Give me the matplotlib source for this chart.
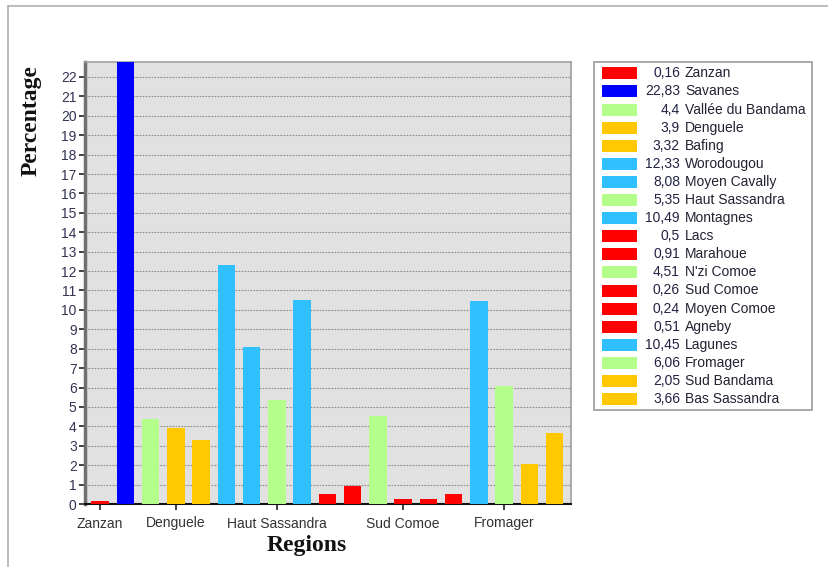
import matplotlib.pyplot as plt
from matplotlib.patches import Rectangle
from matplotlib.lines import Line2D

plt.rcParams['font.family'] = ['Liberation Sans', 'DejaVu Sans']

regions = ['Zanzan', 'Savanes', 'Vallée du Bandama', 'Denguele', 'Bafing',
           'Worodougou', 'Moyen Cavally', 'Haut Sassandra', 'Montagnes', 'Lacs',
           'Marahoue', "N'zi Comoe", 'Sud Comoe', 'Moyen Comoe', 'Agneby',
           'Lagunes', 'Fromager', 'Sud Bandama', 'Bas Sassandra']
values = [0.16, 22.83, 4.4, 3.9, 3.32, 12.33, 8.08, 5.35, 10.49, 0.5,
          0.91, 4.51, 0.26, 0.24, 0.51, 10.45, 6.06, 2.05, 3.66]
value_text = ['0,16', '22,83', '4,4', '3,9', '3,32', '12,33', '8,08', '5,35', '10,49', '0,5',
              '0,91', '4,51', '0,26', '0,24', '0,51', '10,45', '6,06', '2,05', '3,66']
colors = ['#ff0000', '#0000ff', '#b4ff8c', '#ffc800', '#ffc800',
          '#30c0ff', '#30c0ff', '#b4ff8c', '#30c0ff', '#ff0000',
          '#ff0000', '#b4ff8c', '#ff0000', '#ff0000', '#ff0000',
          '#30c0ff', '#b4ff8c', '#ffc800', '#ffc800']
tick_idx = [0, 3, 7, 12, 16]
tick_labels = ['Zanzan', 'Denguele', 'Haut Sassandra', 'Sud Comoe', 'Fromager']

W, H = 829, 567
fig = plt.figure(figsize=(W / 100, H / 100), dpi=100)

# thin outer frame on top and left
fig.add_artist(Line2D([8 / W, 1], [1 - 6 / H, 1 - 6 / H], color='#b0b0b0', lw=1.2))
fig.add_artist(Line2D([8 / W, 8 / W], [0, 1 - 6 / H], color='#b0b0b0', lw=1.2))

ax = fig.add_axes([85 / W, 1 - 504 / H, (571 - 85) / W, (504 - 62) / H])
ax.set_facecolor('#e1e1e1')
x = list(range(len(values)))
ax.bar(x, values, width=0.7, color=colors, zorder=3)
ax.set_xlim(-0.6, 18.65)
ax.set_ylim(0, 22.77)
ax.set_yticks(range(0, 23))
ax.set_xticks(tick_idx)
ax.set_xticklabels(tick_labels)
ax.tick_params(axis='both', labelsize=10, colors='#222222', length=4, width=1.2)
ax.tick_params(axis='y', labelcolor='#333355', pad=2)
ax.tick_params(axis='x', labelcolor='#333333', pad=5)
ax.yaxis.grid(True, linestyle=(0, (1.5, 1.2)), color='#8a8a8a', lw=0.8, zorder=1)
ax.spines['left'].set_color('#707070')
ax.spines['left'].set_linewidth(2.5)
ax.spines['bottom'].set_color('#111111')
ax.spines['bottom'].set_linewidth(1.5)
for s in ('top', 'right'):
    ax.spines[s].set_color('#a0a0a0')
    ax.spines[s].set_linewidth(1.2)

serif = ['Liberation Serif', 'DejaVu Serif']
fig.text(31 / W, 1 - 121 / H, 'Percentage', family=serif, fontsize=17,
         fontweight='bold', rotation=90, ha='center', va='center', color='#111111')
fig.text(307 / W, 1 - 546 / H, 'Regions', family=serif, fontsize=17,
         fontweight='bold', ha='center', va='center', color='#111111')

# legend panel drawn in pixel coordinates
lg = fig.add_axes([0, 0, 1, 1], facecolor='none')
lg.set_xlim(0, W)
lg.set_ylim(H, 0)
lg.axis('off')
lg.add_patch(Rectangle((594, 62), 218, 348, facecolor='white', edgecolor='#9a9a9a', lw=1.2))
for i, (name, txt, c) in enumerate(zip(regions, value_text, colors)):
    yc = 73.3 + i * 18.1
    lg.add_patch(Rectangle((602, yc - 6), 35, 12, facecolor=c, edgecolor='none'))
    lg.text(680, yc, txt, ha='right', va='center', fontsize=10, color='#222244')
    lg.text(685, yc, name, ha='left', va='center', fontsize=10, color='#222233')

fig.savefig('out.png', dpi=100)
